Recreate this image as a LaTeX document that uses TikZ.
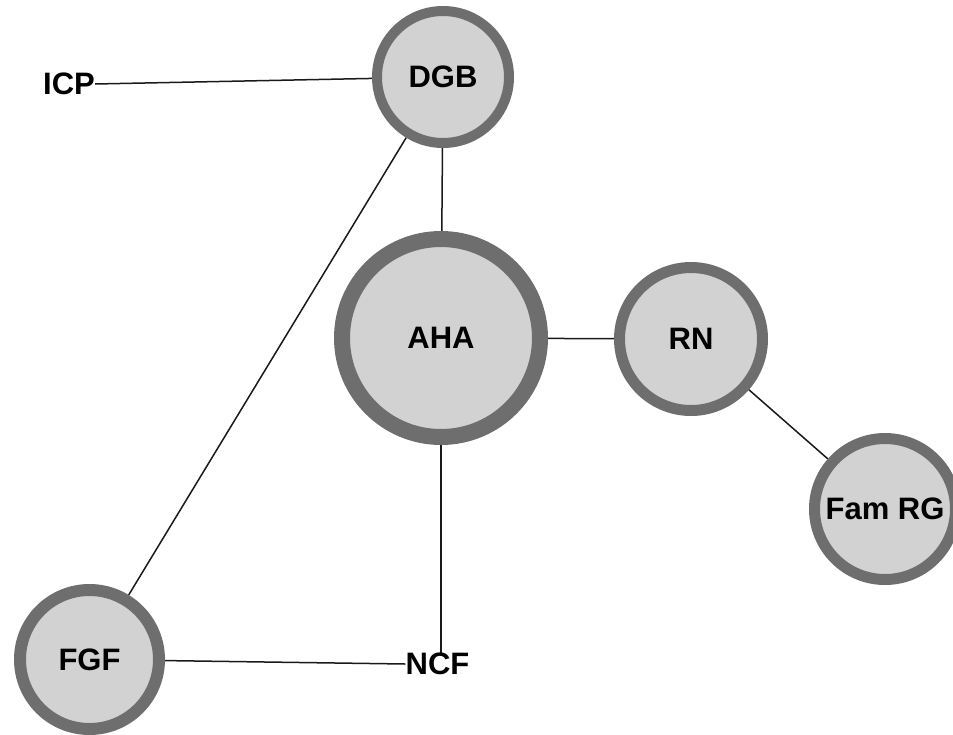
\documentclass[tikz,border=0pt]{standalone}
\usepackage{fontspec}
\setmainfont{Liberation Sans}
\usetikzlibrary{backgrounds}
\definecolor{ringgray}{RGB}{110,110,110}
\definecolor{discgray}{RGB}{210,210,210}
\tikzset{
  x=1pt, y=-1pt,
  hub/.style={circle, draw=ringgray, fill=discgray, inner sep=0pt,
    font=\fontsize{31}{33}\selectfont\bfseries},
  tag/.style={inner sep=0pt, font=\fontsize{31}{33}\selectfont\bfseries},
  link/.style={draw=black!90, line width=1.5pt}
}
\begin{document}
\begin{tikzpicture}
\useasboundingbox (0,0) rectangle (953,734);
% circled groups
\node[hub, line width=10pt, minimum size=132pt] (dgb) at (443,77) {DGB};
\node[hub, line width=16pt, minimum size=198pt] (aha) at (441,338) {AHA};
\node[hub, line width=11pt, minimum size=143pt] (rn) at (691,339) {RN};
\node[hub, line width=11pt, minimum size=141pt] (famrg) at (885,509) {Fam RG};
\node[hub, line width=12pt, minimum size=139pt] (fgf) at (89.5,659.5) {FGF};
% plain labels
\node[tag] (icp) at (69,84) {ICP};
\node[tag] (ncf) at (437.5,664) {NCF};
% connectors, kept behind the rings
\begin{scope}[on background layer]
\draw[link] (icp.east) -- (dgb);
\draw[link] (dgb) -- (aha);
\draw[link] (dgb) -- (fgf);
\draw[link] (aha) -- (rn);
\draw[link] (rn) -- (famrg);
\draw[link] (aha.south) -- (ncf.north -| aha.south);
\draw[link] (fgf) -- (ncf.west);
\end{scope}
\end{tikzpicture}
\end{document}
